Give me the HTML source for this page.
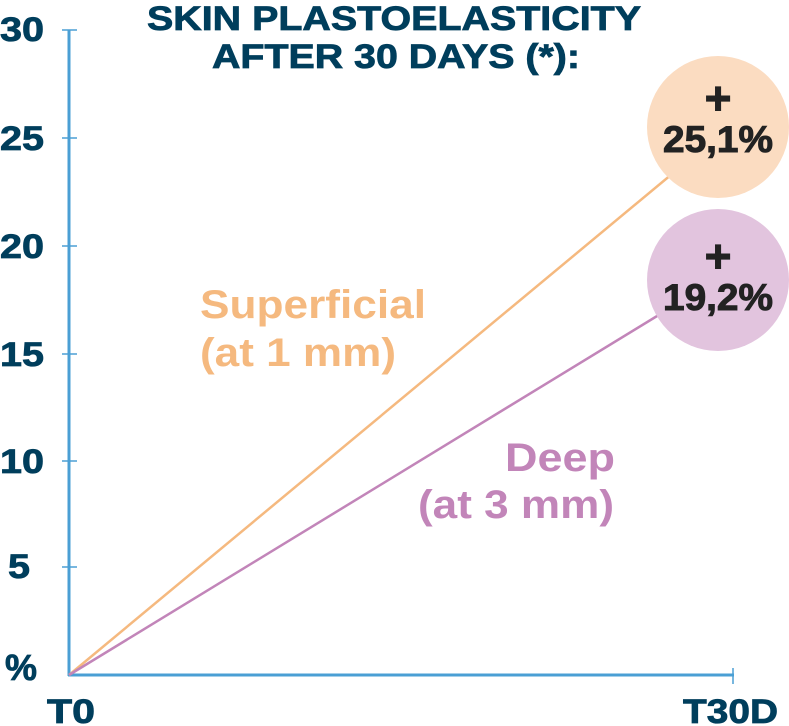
<!DOCTYPE html>
<html><head><meta charset="utf-8"><style>html,body{margin:0;padding:0;background:#fff}svg{display:block}</style></head>
<body>
<svg width="789" height="726" viewBox="0 0 789 726" xmlns="http://www.w3.org/2000/svg" font-family="Liberation Sans, sans-serif" font-weight="bold">
<g stroke="#4a9fd4" stroke-width="3">
<line x1="69" y1="30" x2="69" y2="676"/>
<line x1="68" y1="675" x2="734" y2="675"/>
<line x1="733" y1="668" x2="733" y2="684" stroke-width="1.5"/>
<g stroke-width="1.5">
<line x1="62" y1="30" x2="77" y2="30"/>
<line x1="62" y1="138" x2="77" y2="138"/>
<line x1="62" y1="246" x2="77" y2="246"/>
<line x1="62" y1="354" x2="77" y2="354"/>
<line x1="62" y1="461" x2="77" y2="461"/>
<line x1="62" y1="567" x2="77" y2="567"/>
</g></g>
<g fill="#003e5c" font-size="34" stroke="#003e5c" stroke-width="0.8">
<text x="0" y="41" textLength="44" lengthAdjust="spacingAndGlyphs">30</text>
<text x="0" y="150" textLength="44" lengthAdjust="spacingAndGlyphs">25</text>
<text x="0" y="258" textLength="44" lengthAdjust="spacingAndGlyphs">20</text>
<text x="0" y="366" textLength="44" lengthAdjust="spacingAndGlyphs">15</text>
<text x="0" y="473" textLength="44" lengthAdjust="spacingAndGlyphs">10</text>
<text x="8" y="578" textLength="22" lengthAdjust="spacingAndGlyphs">5</text>
<text x="5" y="680" font-size="36" textLength="32" lengthAdjust="spacingAndGlyphs">%</text>
<text x="47" y="723" textLength="48" lengthAdjust="spacingAndGlyphs">T0</text>
<text x="683" y="723" textLength="95" lengthAdjust="spacingAndGlyphs">T30D</text>
<text x="147" y="30" textLength="494" lengthAdjust="spacingAndGlyphs">SKIN PLASTOELASTICITY</text>
<text x="212" y="68" textLength="368" lengthAdjust="spacingAndGlyphs">AFTER 30 DAYS (*):</text>
</g>
<line x1="69" y1="675" x2="672" y2="174" stroke="#f5b97f" stroke-width="2.5"/>
<line x1="69" y1="675" x2="662" y2="313" stroke="#c285b9" stroke-width="2.5"/>
<circle cx="718" cy="127" r="71" fill="#fbdcc1"/>
<circle cx="718" cy="280" r="71" fill="#e2c4de"/>
<g fill="#222" stroke="#222" stroke-width="1" text-anchor="middle">
<text x="718" y="114" font-size="46">+</text>
<text x="718" y="152" font-size="37" textLength="110" lengthAdjust="spacingAndGlyphs">25,1%</text>
<text x="718" y="272" font-size="46">+</text>
<text x="718" y="310" font-size="37" textLength="110" lengthAdjust="spacingAndGlyphs">19,2%</text>
</g>
<g fill="#f5b97f" font-size="40">
<text x="200" y="318" textLength="226" lengthAdjust="spacingAndGlyphs">Superficial</text>
<text x="200" y="366" textLength="196" lengthAdjust="spacingAndGlyphs">(at 1 mm)</text>
</g>
<g fill="#c285b9" font-size="40">
<text x="505" y="471" textLength="110" lengthAdjust="spacingAndGlyphs">Deep</text>
<text x="418" y="518" textLength="196" lengthAdjust="spacingAndGlyphs">(at 3 mm)</text>
</g>
</svg>
</body></html>
